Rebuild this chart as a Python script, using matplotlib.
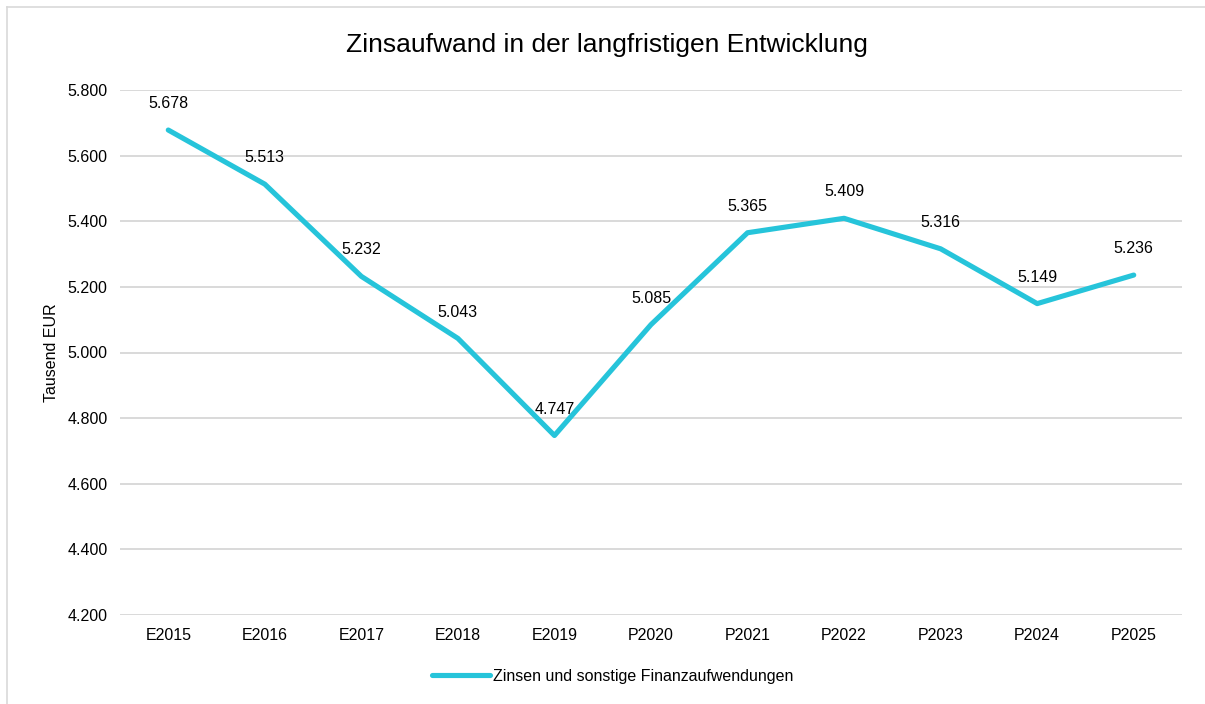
import matplotlib.pyplot as plt
from matplotlib.lines import Line2D
from matplotlib.ticker import FuncFormatter

# --- Daten ---
jahre = ["E2015", "E2016", "E2017", "E2018", "E2019", "P2020",
         "P2021", "P2022", "P2023", "P2024", "P2025"]
zinsen = [5678, 5513, 5232, 5043, 4747, 5085, 5365, 5409, 5316, 5149, 5236]

farbe = "#26c4da"
plt.rcParams['font.family'] = ['Liberation Sans', 'DejaVu Sans']
fs = 11.5

fig = plt.figure(figsize=(12.05, 7.04), dpi=100)
ax = fig.add_axes([120 / 1205, 1 - 615 / 704, 1062 / 1205, 525 / 704])

x = list(range(len(jahre)))
ax.plot(x, zinsen, color=farbe, lw=3.7, solid_capstyle='round',
        solid_joinstyle='round', label="Zinsen und sonstige Finanzaufwendungen")

# Datenbeschriftungen oberhalb der Punkte
for xi, yi in zip(x, zinsen):
    ax.annotate(f"{yi / 1000:.3f}", (xi, yi), xytext=(0, 19),
                textcoords='offset points', ha='center', va='center',
                fontsize=fs, color='black')

ax.set_xlim(-0.5, len(jahre) - 0.5)
ax.set_ylim(4200, 5800)
ax.set_yticks(range(4200, 5801, 200))
ax.yaxis.set_major_formatter(FuncFormatter(lambda v, p: f"{v / 1000:.3f}"))
ax.set_xticks(x)
ax.set_xticklabels(jahre)
ax.tick_params(axis='both', length=0, labelsize=fs, colors='black')
ax.tick_params(axis='x', pad=9)
ax.tick_params(axis='y', pad=9)
ax.grid(axis='y', color='#d9d9d9', lw=1.4)
ax.set_axisbelow(True)
for s in ax.spines.values():
    s.set_visible(False)

ax.set_ylabel("Tausend EUR", fontsize=fs)
ax.yaxis.set_label_coords(-61 / 1062, 0.5)

fig.text(607 / 1205, 1 - 45 / 704, "Zinsaufwand in der langfristigen Entwicklung",
         ha='center', va='center', fontsize=19)

# Legende unten
handle = Line2D([0], [0], color=farbe, lw=3.7, solid_capstyle='round')
fig.legend([handle], ["Zinsen und sonstige Finanzaufwendungen"],
           loc='center', bbox_to_anchor=(613 / 1205, 1 - 676 / 704),
           frameon=False, fontsize=fs, handlelength=3.6, handletextpad=0.2)

# Rahmen (nur oben und links sichtbar)
fig.add_artist(Line2D([7 / 1205, 7 / 1205], [0, 1 - 7 / 704],
                      color='#d9d9d9', lw=1.2, transform=fig.transFigure))
fig.add_artist(Line2D([7 / 1205, 1], [1 - 7 / 704, 1 - 7 / 704],
                      color='#d9d9d9', lw=1.2, transform=fig.transFigure))

fig.savefig("out.png", dpi=100, facecolor='white')
